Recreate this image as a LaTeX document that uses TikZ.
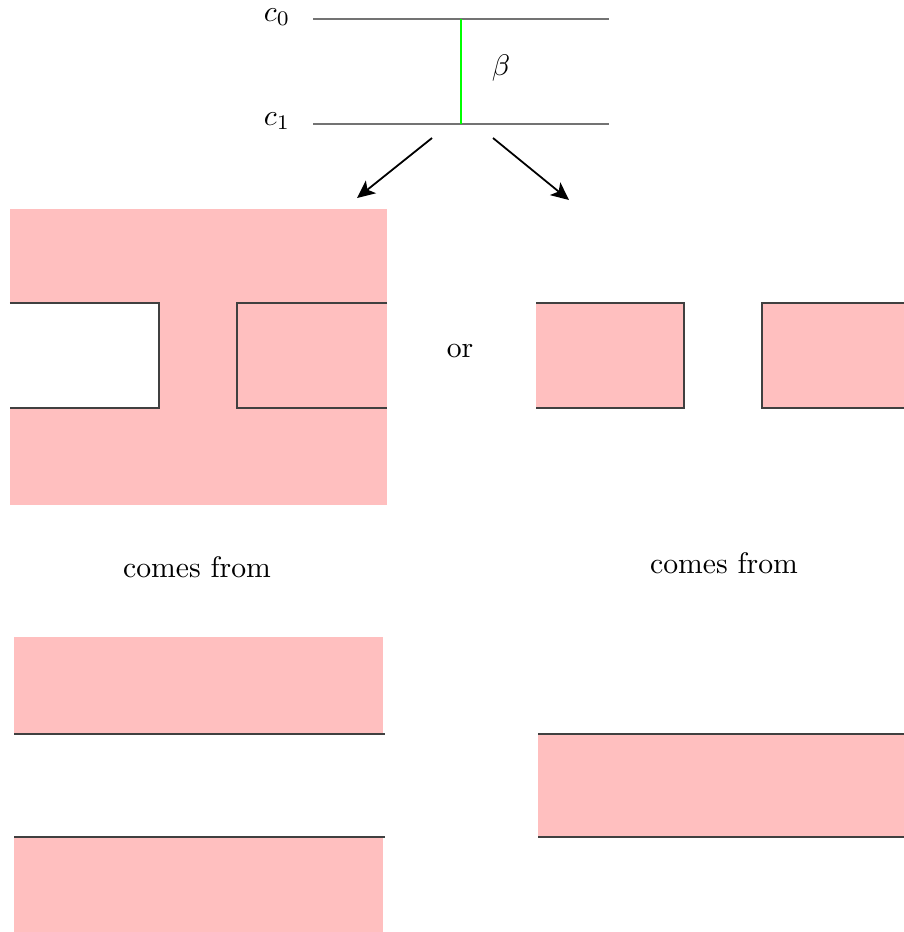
\documentclass[tikz,border=0pt]{standalone}
\usepackage{amsmath,amssymb}
\usetikzlibrary{positioning, arrows.meta}

\begin{document}
\begin{tikzpicture}[x=0.011834cm, y=-0.011834cm,
    level/.style={draw=black!55, line width=0.9pt},
    region/.style={fill=red!25},
    rim/.style={draw=black!75, line width=0.4pt}]
        \useasboundingbox (0,0) rectangle (904,932);
        \clip (0,0) rectangle (904,932);
        % the two levels and beta
        \node (c0) at (277,17) {$c_0$};
        \node (c1) at (277,121) {$c_1$};
        \coordinate (c0l) at (313,19);
        \coordinate (c0r) at (609,19);
        \coordinate (c1l) at (313,124);
        \coordinate (c1r) at (609,124);
        \coordinate (b0) at (461,19);
        \coordinate (b1) at (461,124);
        \path[level] (c0l) edge (c0r) (c1l) edge (c1r);
        \draw[green, line width=0.8pt] (b0) -- (b1);
        \node (beta) at (501,68) {$\beta$};
        \coordinate (al) at (432,138);
        \coordinate (ale) at (357,198);
        \coordinate (ar) at (493,138);
        \coordinate (are) at (569,200);
        \path[->, >={Stealth[length=6pt, width=5.5pt, inset=1.5pt]}, semithick]
          (al) edge (ale)
          (ar) edge (are);
        % left: joined
        \fill[region] (10,209) rectangle (387,505);
        \fill[white] (10,303) rectangle (159,408);
        \draw[rim] (10,303) -- (159,303) -- (159,408) -- (10,408);
        \draw[rim] (387,303) -- (237,303) -- (237,408) -- (387,408);
        \node (or) at (460,351) {or};
        % right: split
        \fill[region] (536,303) rectangle (684,408);
        \fill[region] (762,303) rectangle (910,408);
        \draw[rim] (536,303) -- (684,303) -- (684,408) -- (536,408);
        \draw[rim] (910,303) -- (762,303) -- (762,408) -- (910,408);
        \node (fromL) at (197,567) {comes from};
        \node (fromR) at (724,563) {comes from};
        % left below
        \fill[region] (14,637) rectangle (383,734);
        \fill[region] (14,837) rectangle (383,932);
        \draw[rim] (14,734) -- (385,734);
        \draw[rim] (14,837) -- (385,837);
        % right below
        \fill[region] (538,734) rectangle (910,837);
        \draw[rim] (538,734) -- (910,734);
        \draw[rim] (538,837) -- (910,837);
\end{tikzpicture}
\end{document}
